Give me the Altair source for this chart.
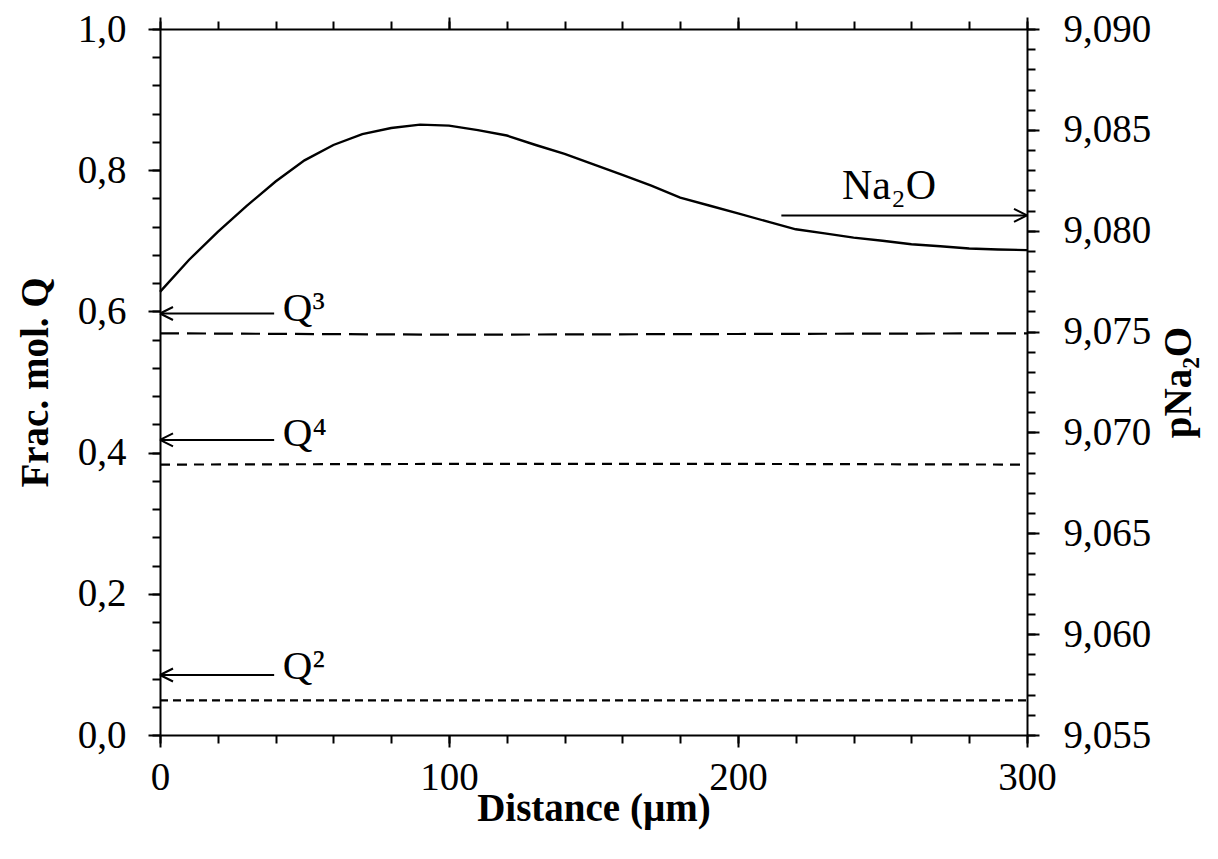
import altair as alt
import pandas as pd

# ---- data ----
DIST = list(range(0, 301, 10))
NA2O = [9.07697, 9.07855, 9.07994, 9.08123, 9.08244, 9.08349, 9.08425, 9.08479, 9.08509, 9.08526,
        9.08521, 9.08499, 9.08472, 9.08425, 9.08381, 9.08329, 9.08277, 9.08223, 9.08164, 9.08125,
        9.08086, 9.08046, 9.08007, 9.07987, 9.07966, 9.07950, 9.07933, 9.07923, 9.07912, 9.07907,
        9.07904]

Q_DIST = [0, 100, 200, 300]
Q2 = [0.049, 0.049, 0.049, 0.049]
Q3 = [0.569, 0.567, 0.568, 0.569]
Q4 = [0.383, 0.384, 0.384, 0.383]

Q_SERIES = ["Q3", "Q4", "Q2"]
Q_LABELS = ["Q³", "Q⁴", "Q²"]
Q_ARROW_Y = [0.597, 0.418, 0.085]
Q_LABEL_Y = [0.586, 0.409, 0.080]
Q_ARROW_X = [0, 39.5]
Q_LABEL_X = 42.5

NA_LABEL = "Na₂O"
NA_ARROW_Y = 9.08076
NA_ARROW_X = [215, 300]
NA_LABEL_X = 236
NA_LABEL_Y = 9.08159

X_MAJOR = [0, 100, 200, 300]
X_MINOR = list(range(0, 301, 20))
LEFT_MAJOR = [0.0, 0.2, 0.4, 0.6, 0.8, 1.0]
LEFT_MINOR = [round(i * 0.04, 2) for i in range(26)]
RIGHT_MAJOR = [9.055, 9.060, 9.065, 9.070, 9.075, 9.080, 9.085, 9.090]
RIGHT_MINOR = [round(9.055 + i * 0.001, 3) for i in range(36)]

FONT = "Liberation Serif"

# ---- tables ----
q_df = pd.DataFrame({
    "dist": Q_DIST * 3,
    "frac": Q3 + Q4 + Q2,
    "series": ["Q3"] * 4 + ["Q4"] * 4 + ["Q2"] * 4,
})
na_df = pd.DataFrame({"dist": DIST, "na": NA2O})
q_ann = pd.DataFrame({
    "x0": [Q_ARROW_X[0]] * 3, "x1": [Q_ARROW_X[1]] * 3,
    "ay": Q_ARROW_Y, "lx": [Q_LABEL_X] * 3, "ly": Q_LABEL_Y, "label": Q_LABELS,
})
na_ann = pd.DataFrame({
    "x0": [NA_ARROW_X[0]], "x1": [NA_ARROW_X[1]], "ay": [NA_ARROW_Y],
    "lx": [NA_LABEL_X], "ly": [NA_LABEL_Y], "label": [NA_LABEL],
})

common_axis = dict(
    domainColor="black", domainWidth=2, tickColor="black", tickWidth=2,
    labelFont=FONT, labelFontSize=39, labelColor="black",
    titleFont=FONT, titleFontSize=39, titleFontWeight="bold", titleColor="black",
    grid=False, labelFlush=False, labelOverlap=False,
)
minor_axis = dict(
    domain=False, labels=False, title=None, grid=False,
    tickColor="black", tickWidth=2, tickSize=8,
)

x_scale = alt.Scale(domain=[0, 300], nice=False, zero=False)
left_scale = alt.Scale(domain=[0, 1], nice=False, zero=False)
right_scale = alt.Scale(domain=[9.055, 9.090], nice=False, zero=False)

# major axes (with labels)
x_bottom_axis = alt.Axis(
    orient="bottom", values=X_MAJOR, title="Distance (µm)", format="d",
    tickSize=12, labelPadding=11, titlePadding=-8, **common_axis)
x_top_axis = alt.Axis(
    orient="top", values=X_MAJOR, title=None, labels=False,
    tickSize=12, **common_axis)
left_axis = alt.Axis(
    orient="left", values=LEFT_MAJOR, title="Frac. mol. Q",
    labelExpr="replace(format(datum.value, '.1f'), '.', ',')",
    tickSize=12, labelPadding=22, titlePadding=22, **common_axis)
right_axis = alt.Axis(
    orient="right", values=RIGHT_MAJOR, title="pNa₂O",
    labelExpr="replace(format(datum.value, '.3f'), '.', ',')",
    tickSize=12, labelPadding=24, titlePadding=9, titleAngle=270, titleBaseline="top",
    **common_axis)

# minor-tick axes
x_bottom_minor = alt.Axis(orient="bottom", values=X_MINOR, **minor_axis)
x_top_minor = alt.Axis(orient="top", values=X_MINOR, **minor_axis)
left_minor = alt.Axis(orient="left", values=LEFT_MINOR, **minor_axis)
right_minor = alt.Axis(orient="right", values=RIGHT_MINOR, **minor_axis)

# ---- main lines (carry the major axes) ----
q_lines = alt.Chart(q_df).mark_line(color="black", strokeWidth=2.2).encode(
    x=alt.X("dist:Q", scale=x_scale, axis=x_bottom_axis),
    y=alt.Y("frac:Q", scale=left_scale, axis=left_axis),
    strokeDash=alt.StrokeDash("series:N", scale=alt.Scale(domain=Q_SERIES,
                              range=[[19, 8], [10, 7], [8, 5]]), legend=None),
    detail="series:N",
)
na_line = alt.Chart(na_df).mark_line(color="black", strokeWidth=2.4).encode(
    x=alt.X("dist:Q", scale=x_scale, axis=x_top_axis),
    y=alt.Y("na:Q", scale=right_scale, axis=right_axis),
)

# ---- annotations (arrow shafts carry the minor-tick axes) ----
q_rules = alt.Chart(q_ann).mark_rule(color="black", strokeWidth=2).encode(
    x=alt.X("x0:Q", scale=x_scale, axis=x_bottom_minor), x2="x1:Q",
    y=alt.Y("ay:Q", scale=left_scale, axis=left_minor),
)
q_heads = alt.Chart(q_ann).mark_point(
    shape="M0,0L1,-0.5M0,0L1,0.5", size=676, filled=False, stroke="black", strokeWidth=2,
    opacity=1).encode(
    x=alt.X("x0:Q", scale=x_scale, axis=None),
    y=alt.Y("ay:Q", scale=left_scale, axis=None),
)
q_text = alt.Chart(q_ann).mark_text(
    font=FONT, fontSize=41, align="left", baseline="alphabetic", color="black").encode(
    x=alt.X("lx:Q", scale=x_scale, axis=None),
    y=alt.Y("ly:Q", scale=left_scale, axis=None),
    text="label:N",
)
na_rule = alt.Chart(na_ann).mark_rule(color="black", strokeWidth=2).encode(
    x=alt.X("x0:Q", scale=x_scale, axis=x_top_minor), x2="x1:Q",
    y=alt.Y("ay:Q", scale=right_scale, axis=right_minor),
)
na_head = alt.Chart(na_ann).mark_point(
    shape="M0,0L-1,-0.5M0,0L-1,0.5", size=676, filled=False, stroke="black", strokeWidth=2,
    opacity=1).encode(
    x=alt.X("x1:Q", scale=x_scale, axis=None),
    y=alt.Y("ay:Q", scale=right_scale, axis=None),
)
na_text = alt.Chart(na_ann).mark_text(
    font=FONT, fontSize=42, align="left", baseline="alphabetic", color="black").encode(
    x=alt.X("lx:Q", scale=x_scale, axis=None),
    y=alt.Y("ly:Q", scale=right_scale, axis=None),
    text="label:N",
)

chart = alt.layer(
    q_lines, na_line, q_rules, q_heads, q_text, na_rule, na_head, na_text
).resolve_scale(y="independent").resolve_axis(x="independent", y="independent").properties(
    width=867, height=706,
    background="white",
    autosize=alt.AutoSizeParams(type="none"),
    padding={"left": 152, "top": 21, "right": 181, "bottom": 111},
).configure_view(stroke=None)

chart.save("out.html", embed_options={"renderer": "svg", "actions": False})
